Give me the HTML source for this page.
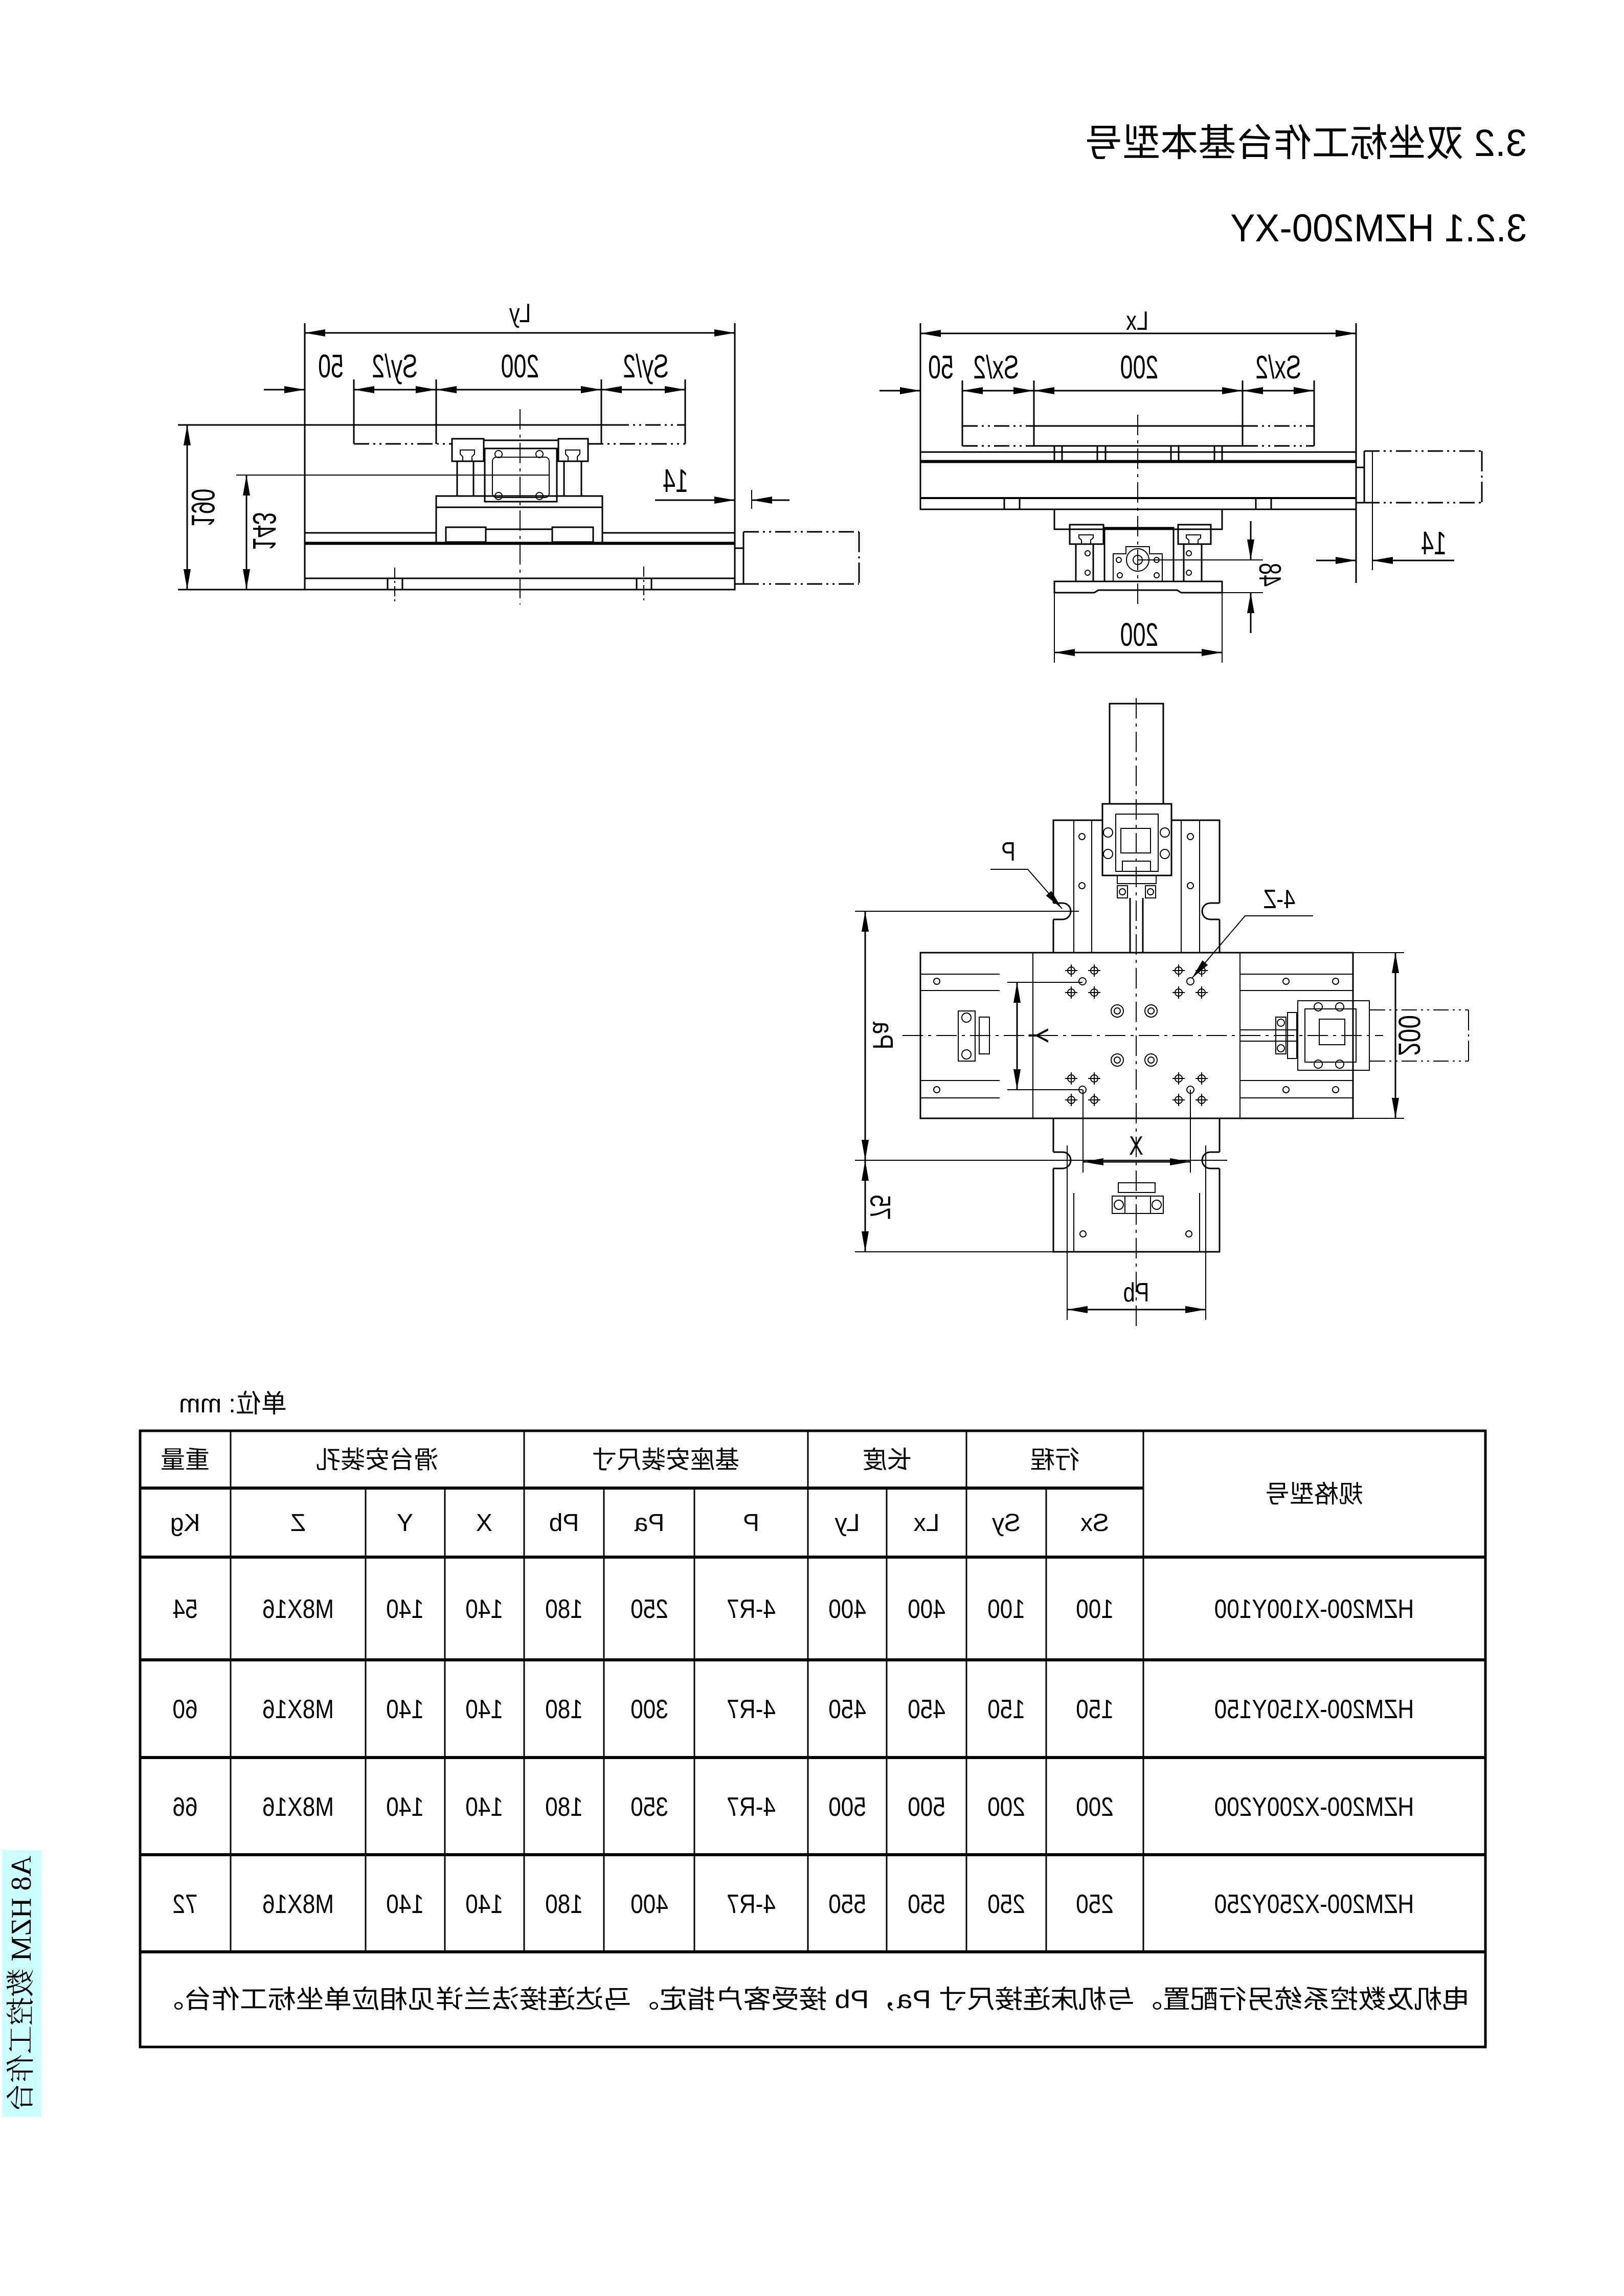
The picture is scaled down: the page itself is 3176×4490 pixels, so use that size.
<!DOCTYPE html>
<html><head><meta charset="utf-8"><style>
html,body{margin:0;padding:0;background:#fff}
svg{display:block}
</style></head><body>
<svg xmlns="http://www.w3.org/2000/svg" width="3176" height="4490" viewBox="0 0 3176 4490">
<defs>
<marker id="ar" markerUnits="userSpaceOnUse" markerWidth="40" markerHeight="14" refX="40" refY="7" orient="auto-start-reverse"><path d="M0,0 L40,7 L0,14 z" fill="#000"/></marker>
</defs>
<rect width="3176" height="4490" fill="#fff"/>

<g font-family="'Liberation Sans','Noto Sans CJK SC',sans-serif" fill="#000">
<text transform="translate(2986,305) scale(-1,1)" font-size="74" textLength="865" lengthAdjust="spacingAndGlyphs">3.2 双坐标工作台基本型号</text>
<text transform="translate(2986,472) scale(-1,1)" font-size="76" textLength="580" lengthAdjust="spacingAndGlyphs">3.2.1 HZM200-XY</text>
</g>

<g fill="none" stroke="#000" stroke-width="3">
<!-- ============ LEFT VIEW ============ -->
<line x1="596" y1="632" x2="596" y2="1153"/>
<line x1="1437" y1="632" x2="1437" y2="1072"/>
<line x1="596" y1="651" x2="1437" y2="651" marker-start="url(#ar)" marker-end="url(#ar)"/>
<line x1="516" y1="762" x2="596" y2="762" marker-end="url(#ar)"/>
<line x1="692" y1="762" x2="853" y2="762" marker-start="url(#ar)" marker-end="url(#ar)"/>
<line x1="853" y1="762" x2="1176" y2="762" marker-start="url(#ar)" marker-end="url(#ar)"/>
<line x1="1176" y1="762" x2="1340" y2="762" marker-start="url(#ar)" marker-end="url(#ar)"/>
<line x1="692" y1="742" x2="692" y2="868"/>
<line x1="853" y1="742" x2="853" y2="868"/>
<line x1="1176" y1="742" x2="1176" y2="868"/>
<line x1="1340" y1="742" x2="1340" y2="868"/>
<line x1="348" y1="831" x2="1200" y2="831"/>
<line x1="1200" y1="831" x2="1340" y2="831" stroke-dasharray="30,8,4,8,4,8"/>
<line x1="692" y1="868" x2="884" y2="868" stroke-dasharray="30,8,4,8,4,8"/>
<line x1="1150" y1="868" x2="1340" y2="868" stroke-dasharray="30,8,4,8,4,8"/>
<line x1="1017" y1="800" x2="1017" y2="1182" stroke-width="2" stroke-dasharray="40,10,6,10"/>
<rect x="884" y="858" width="62" height="44"/>
<rect x="1092" y="858" width="58" height="44"/>
<path d="M900,880 h28 v8 l-5,5 v9 h-18 v-9 l-5,-5z" stroke-width="2"/>
<path d="M1106,880 h28 v8 l-5,5 v9 h-18 v-9 l-5,-5z" stroke-width="2"/>
<rect x="946" y="861" width="146" height="16"/>
<rect x="948" y="877" width="141" height="104"/>
<rect x="963" y="894" width="111" height="79" rx="8" stroke-width="2"/>
<circle cx="975" cy="888" r="7" stroke-width="2"/><circle cx="1055" cy="888" r="7" stroke-width="2"/>
<circle cx="975" cy="970" r="7" stroke-width="2"/><circle cx="1055" cy="970" r="7" stroke-width="2"/>
<rect x="894" y="902" width="32" height="68"/>
<rect x="1103" y="902" width="34" height="68"/>
<rect x="853" y="970" width="325" height="92"/>
<line x1="853" y1="992" x2="1178" y2="992"/>
<rect x="872" y="1031" width="78" height="29"/><rect x="1080" y="1031" width="80" height="29"/>
<line x1="950" y1="1035" x2="1080" y2="1035"/>
<line x1="596" y1="1042" x2="853" y2="1042"/><line x1="1178" y1="1042" x2="1437" y2="1042"/>
<line x1="596" y1="1061" x2="1437" y2="1061"/>
<rect x="596" y="1064" width="841" height="89"/>
<line x1="596" y1="1131" x2="1437" y2="1131"/>
<rect x="758" y="1131" width="29" height="22"/><rect x="1245" y="1131" width="29" height="22"/>
<line x1="772" y1="1110" x2="772" y2="1182" stroke-width="2" stroke-dasharray="20,6,4,6"/>
<line x1="1259" y1="1108" x2="1259" y2="1180" stroke-width="2" stroke-dasharray="20,6,4,6"/>
<rect x="1437" y="1072" width="17" height="70"/>
<line x1="1454" y1="1040" x2="1454" y2="1142"/>
<line x1="1454" y1="1040" x2="1680" y2="1040" stroke-dasharray="30,8,4,8,4,8"/>
<line x1="1454" y1="1142" x2="1680" y2="1142" stroke-dasharray="30,8,4,8,4,8"/>
<line x1="1680" y1="1040" x2="1680" y2="1142" stroke-dasharray="40,8,4,8"/>
<line x1="348" y1="1153" x2="1437" y2="1153"/>
<line x1="366" y1="831" x2="366" y2="1153" marker-start="url(#ar)" marker-end="url(#ar)"/>
<line x1="462" y1="929" x2="1075" y2="929" stroke-width="2"/>
<line x1="482" y1="929" x2="482" y2="1153" marker-start="url(#ar)" marker-end="url(#ar)"/>
<line x1="1470" y1="958" x2="1470" y2="995" stroke-width="2"/>
<line x1="1281" y1="978" x2="1437" y2="978" marker-end="url(#ar)"/>
<line x1="1470" y1="978" x2="1544" y2="978" marker-start="url(#ar)"/>

<!-- ============ RIGHT VIEW ============ -->
<line x1="1800" y1="632" x2="1800" y2="996"/>
<line x1="2652" y1="632" x2="2652" y2="1140"/>
<line x1="1800" y1="652" x2="2652" y2="652" marker-start="url(#ar)" marker-end="url(#ar)"/>
<line x1="1720" y1="764" x2="1800" y2="764" marker-end="url(#ar)"/>
<line x1="1882" y1="764" x2="2022" y2="764" marker-start="url(#ar)" marker-end="url(#ar)"/>
<line x1="2022" y1="764" x2="2430" y2="764" marker-start="url(#ar)" marker-end="url(#ar)"/>
<line x1="2430" y1="764" x2="2570" y2="764" marker-start="url(#ar)" marker-end="url(#ar)"/>
<line x1="1882" y1="744" x2="1882" y2="872"/>
<line x1="2022" y1="744" x2="2022" y2="872"/>
<line x1="2430" y1="744" x2="2430" y2="872"/>
<line x1="2570" y1="744" x2="2570" y2="872"/>
<line x1="1882" y1="833" x2="2022" y2="833" stroke-dasharray="30,8,4,8,4,8"/>
<line x1="2022" y1="833" x2="2430" y2="833"/>
<line x1="2430" y1="833" x2="2570" y2="833" stroke-dasharray="30,8,4,8,4,8"/>
<line x1="1882" y1="872" x2="2022" y2="872" stroke-dasharray="30,8,4,8,4,8"/>
<line x1="2022" y1="872" x2="2430" y2="872"/>
<line x1="2430" y1="872" x2="2570" y2="872" stroke-dasharray="30,8,4,8,4,8"/>
<line x1="2225" y1="811" x2="2225" y2="1190" stroke-width="2" stroke-dasharray="40,10,6,10"/>
<line x1="1800" y1="884" x2="2652" y2="884"/>
<rect x="2062" y="872" width="100" height="29"/><rect x="2290" y="872" width="100" height="29"/>
<line x1="2077" y1="872" x2="2077" y2="901"/><line x1="2146" y1="872" x2="2146" y2="901"/>
<line x1="2305" y1="872" x2="2305" y2="901"/><line x1="2375" y1="872" x2="2375" y2="901"/>
<rect x="1800" y="901" width="852" height="95"/>
<line x1="1800" y1="904" x2="2652" y2="904"/>
<line x1="1800" y1="974" x2="2652" y2="974" stroke-width="4"/>
<rect x="1964" y="974" width="30" height="22"/><rect x="2456" y="974" width="30" height="22"/>
<rect x="2652" y="914" width="16" height="69"/>
<line x1="2668" y1="882" x2="2668" y2="983"/>
<line x1="2668" y1="882" x2="2898" y2="882" stroke-dasharray="30,8,4,8,4,8"/>
<line x1="2668" y1="983" x2="2898" y2="983" stroke-dasharray="30,8,4,8,4,8"/>
<line x1="2898" y1="882" x2="2898" y2="983" stroke-dasharray="40,8,4,8"/>
<rect x="2062" y="996" width="328" height="39"/>
<rect x="2092" y="1026" width="66" height="38"/><rect x="2304" y="1026" width="64" height="38"/>
<path d="M2110,1046 h28 v6 l-5,4 v8 h-18 v-8 l-5,-4z" stroke-width="2"/>
<path d="M2320,1046 h28 v6 l-5,4 v8 h-18 v-8 l-5,-4z" stroke-width="2"/>
<rect x="2160" y="1032" width="135" height="105"/>
<path d="M2177,1137 v-54 h25 v-14 h46 v14 h25 v54" stroke-width="2"/>
<circle cx="2225" cy="1095" r="22" stroke-width="2"/><circle cx="2225" cy="1095" r="9" stroke-width="2"/>
<circle cx="2188" cy="1095" r="5" stroke-width="2"/><circle cx="2262" cy="1095" r="5" stroke-width="2"/>
<circle cx="2190" cy="1125" r="5" stroke-width="2"/><circle cx="2262" cy="1125" r="5" stroke-width="2"/>
<rect x="2104" y="1064" width="34" height="73"/><rect x="2315" y="1064" width="35" height="73"/>
<circle cx="2127" cy="1082" r="5" stroke-width="2"/><circle cx="2127" cy="1120" r="5" stroke-width="2"/>
<circle cx="2325" cy="1082" r="5" stroke-width="2"/><circle cx="2325" cy="1120" r="5" stroke-width="2"/>
<path d="M2062,1137 h328 v22 h-80 l-8,-5 h-154 l-8,5 h-78 z"/>
<line x1="2062" y1="1159" x2="2062" y2="1296" stroke-width="2"/>
<line x1="2390" y1="1159" x2="2390" y2="1296" stroke-width="2"/>
<line x1="2062" y1="1276" x2="2390" y2="1276" marker-start="url(#ar)" marker-end="url(#ar)"/>
<line x1="2225" y1="1095" x2="2470" y2="1095" stroke-width="2"/>
<line x1="2390" y1="1159" x2="2470" y2="1159" stroke-width="2"/>
<line x1="2446" y1="1019" x2="2446" y2="1095" marker-end="url(#ar)"/>
<line x1="2446" y1="1159" x2="2446" y2="1238" marker-start="url(#ar)"/>
<line x1="2684" y1="882" x2="2684" y2="1115" stroke-width="2"/>
<line x1="2574" y1="1096" x2="2652" y2="1096" marker-end="url(#ar)"/>
<line x1="2684" y1="1096" x2="2844" y2="1096" marker-start="url(#ar)"/>

<!-- ============ TOP VIEW ============ -->
<line x1="2222" y1="1365" x2="2222" y2="2600" stroke-width="2" stroke-dasharray="40,10,6,10"/>
<line x1="1765" y1="2025" x2="2705" y2="2025" stroke-width="2" stroke-dasharray="40,10,6,10"/>
<rect x="2170" y="1376" width="105" height="196"/>
<rect x="2156" y="1572" width="135" height="140"/>
<rect x="2182" y="1592" width="83" height="112" stroke-width="2"/>
<rect x="2192" y="1620" width="58" height="48" stroke-width="2"/>
<rect x="2195" y="1684" width="55" height="20" stroke-width="2"/>
<circle cx="2167" cy="1628" r="9" stroke-width="2"/><circle cx="2278" cy="1628" r="9" stroke-width="2"/>
<circle cx="2167" cy="1670" r="9" stroke-width="2"/><circle cx="2278" cy="1670" r="9" stroke-width="2"/>
<rect x="2185" y="1712" width="76" height="16" stroke-width="2"/>
<rect x="2185" y="1732" width="20" height="24" stroke-width="2"/><rect x="2240" y="1732" width="20" height="24" stroke-width="2"/>
<circle cx="2195" cy="1744" r="6" stroke-width="2"/><circle cx="2250" cy="1744" r="6" stroke-width="2"/>
<line x1="2210" y1="1756" x2="2210" y2="1863"/><line x1="2235" y1="1756" x2="2235" y2="1863"/>
<path d="M2060,1863 V1798 M2060,1766 V1604 H2156 M2291,1604 H2385 V1766 M2385,1798 V1863"/>
<path d="M2060,1766 h18 a16,16 0 0 1 0,32 h-18" />
<path d="M2385,1766 h-18 a16,16 0 0 0 0,32 h18" />
<line x1="2100" y1="1604" x2="2100" y2="1863" stroke-width="2"/><line x1="2135" y1="1604" x2="2135" y2="1863" stroke-width="2"/>
<line x1="2310" y1="1604" x2="2310" y2="1863" stroke-width="2"/><line x1="2346" y1="1604" x2="2346" y2="1863" stroke-width="2"/>
<circle cx="2116" cy="1636" r="6" stroke-width="2"/><circle cx="2116" cy="1732" r="6" stroke-width="2"/>
<circle cx="2328" cy="1636" r="6" stroke-width="2"/><circle cx="2328" cy="1732" r="6" stroke-width="2"/>
<rect x="1800" y="1863" width="846" height="324"/>
<line x1="2020" y1="1863" x2="2020" y2="2187" stroke-width="2"/>
<line x1="2425" y1="1863" x2="2425" y2="2187" stroke-width="2"/>
<line x1="2646" y1="1863" x2="2746" y2="1863" stroke-width="2"/>
<line x1="2646" y1="2187" x2="2746" y2="2187" stroke-width="2"/>
<g stroke-width="2">
<line x1="1800" y1="1905" x2="1955" y2="1905"/><line x1="1800" y1="1937" x2="1955" y2="1937"/>
<line x1="1800" y1="2113" x2="1955" y2="2113"/><line x1="1800" y1="2147" x2="1955" y2="2147"/>
<line x1="2425" y1="1905" x2="2646" y2="1905"/><line x1="2425" y1="1937" x2="2646" y2="1937"/>
<line x1="2425" y1="2113" x2="2646" y2="2113"/><line x1="2425" y1="2147" x2="2646" y2="2147"/>
<circle cx="1832" cy="1919" r="6"/><circle cx="1832" cy="2131" r="6"/>
<circle cx="2515" cy="1919" r="6"/><circle cx="2612" cy="1919" r="6"/>
<circle cx="2515" cy="2131" r="6"/><circle cx="2612" cy="2131" r="6"/>
<rect x="1874" y="1977" width="33" height="98"/>
<circle cx="1890" cy="1990" r="9"/><circle cx="1890" cy="2062" r="9"/>
<rect x="1915" y="1989" width="20" height="72"/>
<rect x="2538" y="1957" width="140" height="136"/>
<rect x="2552" y="1973" width="100" height="104"/>
<rect x="2580" y="1993" width="50" height="50"/>
<circle cx="2578" cy="1969" r="8"/><circle cx="2620" cy="1969" r="8"/>
<circle cx="2578" cy="2081" r="8"/><circle cx="2620" cy="2081" r="8"/>
<rect x="2495" y="1989" width="20" height="72"/><rect x="2518" y="1980" width="18" height="90"/>
<circle cx="2505" cy="2000" r="7"/><circle cx="2505" cy="2050" r="7"/>
<line x1="2425" y1="2014" x2="2538" y2="2014"/><line x1="2425" y1="2036" x2="2538" y2="2036"/>
<line x1="2679" y1="1975" x2="2872" y2="1975" stroke-dasharray="30,8,4,8,4,8"/>
<line x1="2679" y1="2075" x2="2872" y2="2075" stroke-dasharray="30,8,4,8,4,8"/>
<line x1="2872" y1="1975" x2="2872" y2="2075" stroke-dasharray="40,8,4,8"/>
</g>
<g stroke-width="2">
<circle cx="2095" cy="1898" r="7"/><circle cx="2140" cy="1898" r="7"/><circle cx="2095" cy="1941" r="7"/><circle cx="2140" cy="1941" r="7"/><circle cx="2117" cy="1919" r="7"/>
<circle cx="2305" cy="1898" r="7"/><circle cx="2350" cy="1898" r="7"/><circle cx="2305" cy="1941" r="7"/><circle cx="2350" cy="1941" r="7"/><circle cx="2328" cy="1919" r="7"/>
<circle cx="2095" cy="2109" r="7"/><circle cx="2140" cy="2109" r="7"/><circle cx="2095" cy="2151" r="7"/><circle cx="2140" cy="2151" r="7"/><circle cx="2117" cy="2131" r="7"/>
<circle cx="2305" cy="2109" r="7"/><circle cx="2350" cy="2109" r="7"/><circle cx="2305" cy="2151" r="7"/><circle cx="2350" cy="2151" r="7"/><circle cx="2328" cy="2131" r="7"/>
<path d="M2083,1898h24M2095,1886v24M2128,1898h24M2140,1886v24M2083,1941h24M2095,1929v24M2128,1941h24M2140,1929v24"/>
<path d="M2293,1898h24M2305,1886v24M2338,1898h24M2350,1886v24M2293,1941h24M2305,1929v24M2338,1941h24M2350,1929v24"/>
<path d="M2083,2109h24M2095,2097v24M2128,2109h24M2140,2097v24M2083,2151h24M2095,2139v24M2128,2151h24M2140,2139v24"/>
<path d="M2293,2109h24M2305,2097v24M2338,2109h24M2350,2097v24M2293,2151h24M2305,2139v24M2338,2151h24M2350,2139v24"/>
<circle cx="2185" cy="1977" r="12"/><circle cx="2185" cy="1977" r="6"/>
<circle cx="2251" cy="1977" r="12"/><circle cx="2251" cy="1977" r="6"/>
<circle cx="2185" cy="2073" r="12"/><circle cx="2185" cy="2073" r="6"/>
<circle cx="2251" cy="2073" r="12"/><circle cx="2251" cy="2073" r="6"/>
</g>
<path d="M2060,2187 V2253 M2060,2285 V2448 H2385 V2285 M2385,2253 V2187"/>
<path d="M2060,2253 h18 a16,16 0 0 1 0,32 h-18" />
<path d="M2385,2253 h-18 a16,16 0 0 0 0,32 h18" />
<line x1="2087" y1="2240" x2="2087" y2="2581" stroke-width="2"/>
<line x1="2358" y1="2240" x2="2358" y2="2581" stroke-width="2"/>
<line x1="2100" y1="2333" x2="2100" y2="2448" stroke-width="2"/><line x1="2346" y1="2333" x2="2346" y2="2448" stroke-width="2"/>
<circle cx="2118" cy="2413" r="6" stroke-width="2"/><circle cx="2325" cy="2413" r="6" stroke-width="2"/>
<rect x="2187" y="2313" width="72" height="19" stroke-width="2"/>
<rect x="2175" y="2339" width="100" height="34" stroke-width="2"/>
<circle cx="2188" cy="2356" r="9" stroke-width="2"/><circle cx="2262" cy="2356" r="9" stroke-width="2"/>
<line x1="2200" y1="2339" x2="2200" y2="2373" stroke-width="2"/><line x1="2250" y1="2339" x2="2250" y2="2373" stroke-width="2"/>
<line x1="1672" y1="1782" x2="2110" y2="1782" stroke-width="2"/>
<line x1="1672" y1="2269" x2="2400" y2="2269" stroke-width="2"/>
<line x1="1672" y1="2448" x2="2060" y2="2448" stroke-width="2"/>
<line x1="1692" y1="1782" x2="1692" y2="2269" marker-start="url(#ar)" marker-end="url(#ar)"/>
<line x1="1692" y1="2269" x2="1692" y2="2448" marker-start="url(#ar)" marker-end="url(#ar)"/>
<line x1="2729" y1="1863" x2="2729" y2="2187" marker-start="url(#ar)" marker-end="url(#ar)"/>
<line x1="2087" y1="2561" x2="2358" y2="2561" marker-start="url(#ar)" marker-end="url(#ar)"/>
<line x1="2118" y1="2131" x2="2118" y2="2293" stroke-width="2"/>
<line x1="2328" y1="2131" x2="2328" y2="2293" stroke-width="2"/>
<line x1="2118" y1="2272" x2="2328" y2="2272" marker-start="url(#ar)" marker-end="url(#ar)"/>
<line x1="1970" y1="1921" x2="2117" y2="1921" stroke-width="2"/>
<line x1="1970" y1="2131" x2="2117" y2="2131" stroke-width="2"/>
<line x1="1989" y1="1921" x2="1989" y2="2131" marker-start="url(#ar)" marker-end="url(#ar)"/>
<path d="M1937,1700 H2010 L2077,1777" stroke-width="2" marker-end="url(#ar)"/>
<path d="M2568,1791 H2435 L2331,1913" stroke-width="2" marker-end="url(#ar)"/>
</g>

<!-- drawing labels -->
<g font-family="'Liberation Sans',sans-serif" fill="#000" text-anchor="middle">
<text transform="translate(1017,630) scale(-0.8,1)" font-size="52">Ly</text>
<text transform="translate(647,738) scale(-0.7,1)" font-size="64">50</text>
<text transform="translate(772,738) scale(-0.7,1)" font-size="64">Sy/2</text>
<text transform="translate(1017,738) scale(-0.7,1)" font-size="64">200</text>
<text transform="translate(1263,738) scale(-0.7,1)" font-size="64">Sy/2</text>
<text transform="translate(397,993) rotate(90) scale(-0.7,1)" font-size="64" dominant-baseline="central">190</text>
<text transform="translate(517,1039) rotate(90) scale(-0.7,1)" font-size="64" dominant-baseline="central">143</text>
<text transform="translate(1321,962) scale(-0.7,1)" font-size="64">14</text>
<text transform="translate(2224,645) scale(-0.8,1)" font-size="52">Lx</text>
<text transform="translate(1840,740) scale(-0.7,1)" font-size="64">50</text>
<text transform="translate(1948,740) scale(-0.7,1)" font-size="64">Sx/2</text>
<text transform="translate(2228,740) scale(-0.7,1)" font-size="64">200</text>
<text transform="translate(2500,740) scale(-0.7,1)" font-size="64">Sx/2</text>
<text transform="translate(2228,1263) scale(-0.7,1)" font-size="64">200</text>
<text transform="translate(2484,1124) rotate(90) scale(-0.7,1)" font-size="60" dominant-baseline="central">48</text>
<text transform="translate(2804,1084) scale(-0.7,1)" font-size="64">14</text>
<text transform="translate(1972,1683) scale(-0.8,1)" font-size="52">P</text>
<text transform="translate(2502,1776) scale(-0.8,1)" font-size="52">4-Z</text>
<text transform="translate(1727,2025) rotate(90) scale(-0.8,1)" font-size="56" dominant-baseline="central">Pa</text>
<text transform="translate(1722,2361) rotate(90) scale(-0.8,1)" font-size="56" dominant-baseline="central">75</text>
<text transform="translate(2756,2025) rotate(90) scale(-0.8,1)" font-size="60" dominant-baseline="central">200</text>
<text transform="translate(2222,2545) scale(-0.8,1)" font-size="52">Pb</text>
<text transform="translate(2222,2258) scale(-0.8,1)" font-size="52">X</text>
<text transform="translate(2031,2025) rotate(90) scale(-0.8,1)" font-size="56" dominant-baseline="central">Y</text>
</g>

<!-- ============ TABLE ============ -->
<g font-family="'Liberation Sans','Noto Sans CJK SC',sans-serif" fill="#000">
<text transform="translate(561,2762) scale(-1,1)" font-size="50" text-anchor="start">单位: mm</text>
</g>
<g stroke="#000" fill="none">
<rect x="274" y="2798" width="2631" height="1205" stroke-width="5"/>
<g stroke-width="6">
<line x1="274" y1="2910" x2="2236" y2="2910"/>
<line x1="274" y1="3045" x2="2905" y2="3045"/>
<line x1="274" y1="3246" x2="2905" y2="3246"/>
<line x1="274" y1="3437" x2="2905" y2="3437"/>
<line x1="274" y1="3627" x2="2905" y2="3627"/>
<line x1="274" y1="3817" x2="2905" y2="3817"/>
</g>
<g stroke-width="3">
<line x1="451" y1="2798" x2="451" y2="3817"/>
<line x1="1025" y1="2798" x2="1025" y2="3817"/>
<line x1="1580" y1="2798" x2="1580" y2="3817"/>
<line x1="1890" y1="2798" x2="1890" y2="3817"/>
<line x1="2236" y1="2798" x2="2236" y2="3817"/>
<line x1="715" y1="2910" x2="715" y2="3817"/>
<line x1="870" y1="2910" x2="870" y2="3817"/>
<line x1="1181" y1="2910" x2="1181" y2="3817"/>
<line x1="1358" y1="2910" x2="1358" y2="3817"/>
<line x1="1734" y1="2910" x2="1734" y2="3817"/>
<line x1="2046" y1="2910" x2="2046" y2="3817"/>
</g>
</g>
<g font-family="'Liberation Sans','Noto Sans CJK SC',sans-serif" fill="#000" text-anchor="middle" font-size="48">
<text transform="translate(362,2871) scale(-1,1)">重量</text>
<text transform="translate(738,2871) scale(-1,1)">滑台安装孔</text>
<text transform="translate(1302,2871) scale(-1,1)">基座安装尺寸</text>
<text transform="translate(1735,2871) scale(-1,1)">长度</text>
<text transform="translate(2063,2871) scale(-1,1)">行程</text>
<text transform="translate(2570,2938) scale(-1,1)">规格型号</text>
<g transform="translate(0,2994)">
<text transform="translate(362,0) scale(-1,1)">Kg</text>
<text transform="translate(583,0) scale(-1,1)">Z</text>
<text transform="translate(792,0) scale(-1,1)">Y</text>
<text transform="translate(947,0) scale(-1,1)">X</text>
<text transform="translate(1103,0) scale(-1,1)">Pb</text>
<text transform="translate(1270,0) scale(-1,1)">Pa</text>
<text transform="translate(1469,0) scale(-1,1)">P</text>
<text transform="translate(1657,0) scale(-1,1)">Ly</text>
<text transform="translate(1812,0) scale(-1,1)">Lx</text>
<text transform="translate(1968,0) scale(-1,1)">Sy</text>
<text transform="translate(2141,0) scale(-1,1)">Sx</text>
</g>
</g>
<g font-family="'Liberation Sans',sans-serif" fill="#000" text-anchor="middle" font-size="52">
<g transform="translate(0,3164)">
<text transform="translate(362,0) scale(-0.85,1)">54</text>
<text transform="translate(583,0) scale(-0.85,1)">M8X16</text>
<text transform="translate(792,0) scale(-0.85,1)">140</text>
<text transform="translate(947,0) scale(-0.85,1)">140</text>
<text transform="translate(1103,0) scale(-0.85,1)">180</text>
<text transform="translate(1270,0) scale(-0.85,1)">250</text>
<text transform="translate(1469,0) scale(-0.85,1)">4-R7</text>
<text transform="translate(1657,0) scale(-0.85,1)">400</text>
<text transform="translate(1812,0) scale(-0.85,1)">400</text>
<text transform="translate(1968,0) scale(-0.85,1)">100</text>
<text transform="translate(2141,0) scale(-0.85,1)">100</text>
<text transform="translate(2570,0) scale(-0.85,1)">HZM200-X100Y100</text>
</g>
<g transform="translate(0,3360)">
<text transform="translate(362,0) scale(-0.85,1)">60</text>
<text transform="translate(583,0) scale(-0.85,1)">M8X16</text>
<text transform="translate(792,0) scale(-0.85,1)">140</text>
<text transform="translate(947,0) scale(-0.85,1)">140</text>
<text transform="translate(1103,0) scale(-0.85,1)">180</text>
<text transform="translate(1270,0) scale(-0.85,1)">300</text>
<text transform="translate(1469,0) scale(-0.85,1)">4-R7</text>
<text transform="translate(1657,0) scale(-0.85,1)">450</text>
<text transform="translate(1812,0) scale(-0.85,1)">450</text>
<text transform="translate(1968,0) scale(-0.85,1)">150</text>
<text transform="translate(2141,0) scale(-0.85,1)">150</text>
<text transform="translate(2570,0) scale(-0.85,1)">HZM200-X150Y150</text>
</g>
<g transform="translate(0,3551)">
<text transform="translate(362,0) scale(-0.85,1)">66</text>
<text transform="translate(583,0) scale(-0.85,1)">M8X16</text>
<text transform="translate(792,0) scale(-0.85,1)">140</text>
<text transform="translate(947,0) scale(-0.85,1)">140</text>
<text transform="translate(1103,0) scale(-0.85,1)">180</text>
<text transform="translate(1270,0) scale(-0.85,1)">350</text>
<text transform="translate(1469,0) scale(-0.85,1)">4-R7</text>
<text transform="translate(1657,0) scale(-0.85,1)">500</text>
<text transform="translate(1812,0) scale(-0.85,1)">500</text>
<text transform="translate(1968,0) scale(-0.85,1)">200</text>
<text transform="translate(2141,0) scale(-0.85,1)">200</text>
<text transform="translate(2570,0) scale(-0.85,1)">HZM200-X200Y200</text>
</g>
<g transform="translate(0,3741)">
<text transform="translate(362,0) scale(-0.85,1)">72</text>
<text transform="translate(583,0) scale(-0.85,1)">M8X16</text>
<text transform="translate(792,0) scale(-0.85,1)">140</text>
<text transform="translate(947,0) scale(-0.85,1)">140</text>
<text transform="translate(1103,0) scale(-0.85,1)">180</text>
<text transform="translate(1270,0) scale(-0.85,1)">400</text>
<text transform="translate(1469,0) scale(-0.85,1)">4-R7</text>
<text transform="translate(1657,0) scale(-0.85,1)">550</text>
<text transform="translate(1812,0) scale(-0.85,1)">550</text>
<text transform="translate(1968,0) scale(-0.85,1)">250</text>
<text transform="translate(2141,0) scale(-0.85,1)">250</text>
<text transform="translate(2570,0) scale(-0.85,1)">HZM200-X250Y250</text>
</g>
</g>
<g font-family="'Liberation Sans','Noto Sans CJK SC',sans-serif" fill="#000" font-size="50">
<text transform="translate(2875,3927) scale(-1,1)" textLength="2570" lengthAdjust="spacingAndGlyphs">电机及数控系统另行配置。与机床连接尺寸 Pa，Pb 接受客户指定。马达连接法兰详见相应单坐标工作台。</text>
</g>

<rect x="4" y="3618" width="77" height="522" fill="#ccffff"/>
<text transform="translate(42,3879) scale(1,-1) rotate(-90)" font-family="'Liberation Serif','Noto Serif CJK SC',serif" font-size="56" text-anchor="middle" dominant-baseline="central" textLength="500" lengthAdjust="spacingAndGlyphs" fill="#000">A8 HZM 数控工作台</text>
</svg>
</body></html>
